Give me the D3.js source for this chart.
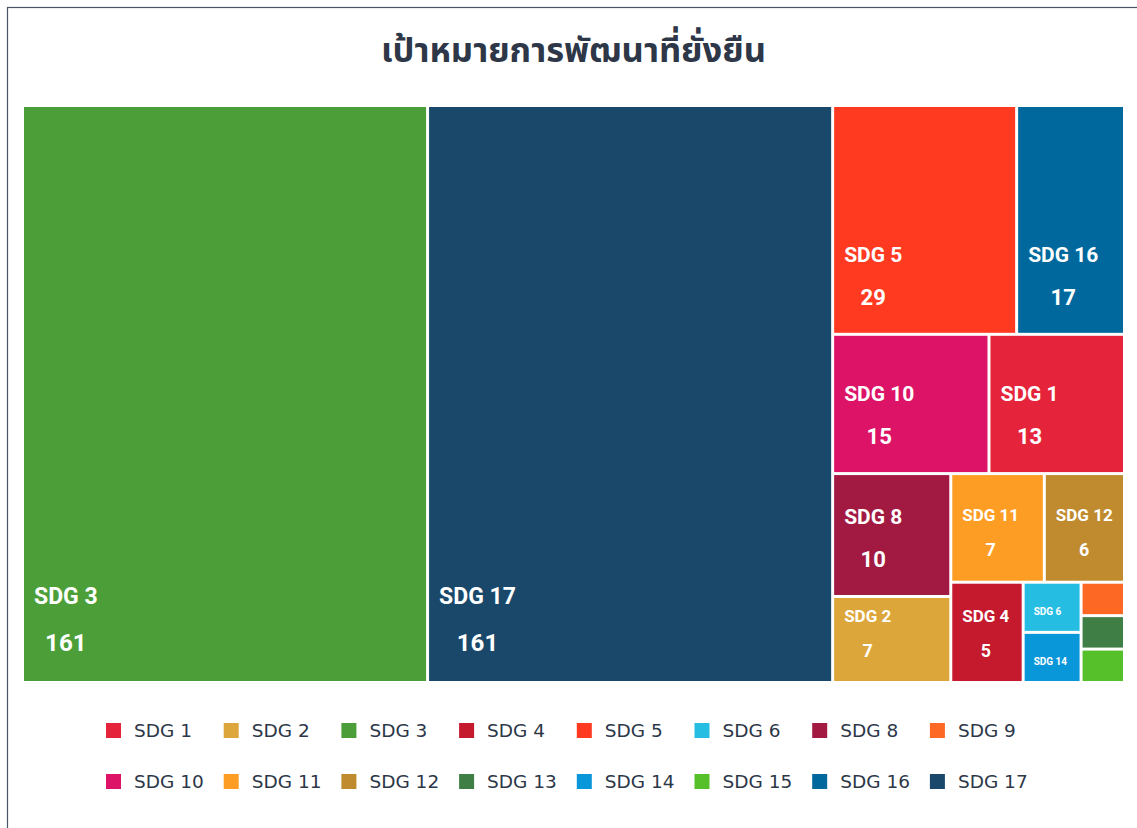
<!DOCTYPE html>
<html>
<head>
<meta charset="utf-8">
<script src="https://cdn.jsdelivr.net/npm/d3@7"></script>
<style>
  body { margin: 0; background: #fff; }
  svg { display: block; }
</style>
</head>
<body>
<svg id="chart"></svg>
<script>
// data
const titleText = 'เป้าหมายการพัฒนาที่ยั่งยืน';
const goals = ['SDG 1', 'SDG 2', 'SDG 3', 'SDG 4', 'SDG 5', 'SDG 6', 'SDG 8', 'SDG 9',
    'SDG 10', 'SDG 11', 'SDG 12', 'SDG 13', 'SDG 14', 'SDG 15', 'SDG 16', 'SDG 17'];
const counts = [13, 7, 161, 5, 29, 2, 10, 1, 15, 7, 6, 1, 2, 1, 17, 161];
const goalColors = ['#e5243b', '#dda63a', '#4c9f38', '#c5192d', '#ff3a21', '#26bde2', '#a21942', '#fd6925',
    '#dd1367', '#fd9d24', '#bf8b2e', '#3f7e44', '#0a97d9', '#56c02b', '#00689d', '#19486a'];

const W = 1137, H = 828;
const plot = { x: 24, y: 107, w: 1099, h: 574 };
const textColor = '#2d3748';

const svg = d3.select('#chart').attr('width', W).attr('height', H);

// outer frame (runs off the right/bottom edge)
svg.append('rect')
    .attr('x', 7.5).attr('y', 7.5)
    .attr('width', W + 20).attr('height', H + 20)
    .attr('fill', 'none')
    .attr('stroke', '#4a5568')
    .attr('stroke-width', 1.2);

svg.append('text')
    .attr('x', plot.x + plot.w / 2)
    .attr('y', 62)
    .attr('text-anchor', 'middle')
    .attr('font-family', '"Noto Sans Thai", "Noto Sans", "DejaVu Sans", sans-serif')
    .attr('font-weight', 700)
    .attr('font-size', 34.5)
    .attr('fill', textColor)
    .text(titleText);

const color = d3.scaleOrdinal().domain(goals).range(goalColors);

const rows = goals.map((g, i) => ({ name: g, value: counts[i] }));
const root = d3.hierarchy({ children: rows })
    .sum(d => d.value || 0)
    .sort((a, b) => b.value - a.value);

d3.treemap()
    .tile(d3.treemapSquarify.ratio(1.2))
    .size([plot.w, plot.h])
    .paddingInner(3)(root);

const g = svg.append('g').attr('transform', `translate(${plot.x},${plot.y})`);

const cell = g.selectAll('g.cell')
    .data(root.leaves())
    .join('g')
    .attr('class', 'cell')
    .attr('transform', d => `translate(${d.x0},${d.y0})`);

cell.append('rect')
    .attr('width', d => d.x1 - d.x0)
    .attr('height', d => d.y1 - d.y0)
    .attr('fill', d => color(d.data.name));

function labelSize(d) {
    const m = Math.min(d.x1 - d.x0, d.y1 - d.y0);
    if (m >= 300) return 23;
    if (m >= 100) return 21;
    if (m >= 60) return 17;
    if (m >= 40) return 10;
    return 0;
}

cell.each(function (d) {
    const fs = labelSize(d);
    if (!fs) return;
    const sel = d3.select(this);
    const h = d.y1 - d.y0;
    const font = 'Roboto, "Noto Sans", sans-serif';
    if (fs < 12) {
        sel.append('text')
            .attr('x', 9)
            .attr('y', h / 2 + fs * 0.75)
            .attr('font-family', font)
            .attr('font-weight', 700)
            .attr('font-size', fs)
            .attr('fill', '#fff')
            .text(d.data.name);
        return;
    }
    const valueY = h - (10 + fs * 0.85);
    const lab = sel.append('text')
        .attr('x', 10)
        .attr('y', valueY - fs * 2.05)
        .attr('font-family', font)
        .attr('font-weight', 700)
        .attr('font-size', fs)
        .attr('fill', '#fff')
        .text(d.data.name);
    const lw = lab.node().getComputedTextLength();
    sel.append('text')
        .attr('x', 10 + lw / 2)
        .attr('y', valueY)
        .attr('text-anchor', 'middle')
        .attr('font-family', font)
        .attr('font-weight', 700)
        .attr('font-size', fs * 1.05)
        .attr('fill', '#fff')
        .text(d.data.value);
});

// legend
const perRow = 8;
const itemW = 117.7;
const legend = svg.append('g').attr('transform', 'translate(106,737)');
const items = legend.selectAll('g.item')
    .data(goals)
    .join('g')
    .attr('class', 'item')
    .attr('transform', (d, i) => `translate(${(i % perRow) * itemW},${Math.floor(i / perRow) * 51})`);

items.append('rect')
    .attr('width', 15).attr('height', 15)
    .attr('y', -14)
    .attr('fill', d => color(d));

items.append('text')
    .attr('x', 28)
    .attr('font-family', '"DejaVu Sans", sans-serif')
    .attr('font-size', 18.5)
    .attr('fill', textColor)
    .text(d => d);
</script>
</body>
</html>
